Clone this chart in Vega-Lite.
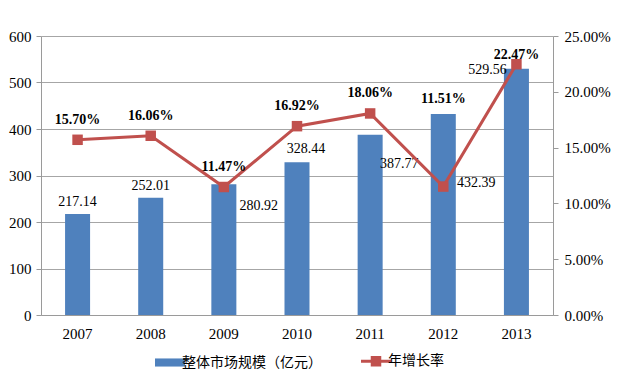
{
  "$schema": "https://vega.github.io/schema/vega-lite/v6.json",
  "width": 512,
  "height": 279,
  "autosize": "none",
  "padding": {"left": 41, "top": 36, "right": 66, "bottom": 55},
  "background": "#ffffff",
  "config": {"view": {"stroke": null}, "font": "Times New Roman, Liberation Serif, serif"},
  "data": {
    "values": [
      {"year": "2007", "size": 217.14, "growth": 0.1570},
      {"year": "2008", "size": 252.01, "growth": 0.1606},
      {"year": "2009", "size": 280.92, "growth": 0.1147},
      {"year": "2010", "size": 328.44, "growth": 0.1692},
      {"year": "2011", "size": 387.77, "growth": 0.1806},
      {"year": "2012", "size": 432.39, "growth": 0.1151},
      {"year": "2013", "size": 529.56, "growth": 0.2247}
    ]
  },
  "encoding": {
    "x": {
      "field": "year",
      "type": "ordinal",
      "scale": {"paddingInner": 0.658, "paddingOuter": 0.329},
      "axis": {
        "title": null,
        "labelAngle": 0,
        "labelFont": "Times New Roman, Liberation Serif, serif",
        "labelFontSize": 15,
        "labelColor": "#000000",
        "labelPadding": 11,
        "ticks": false,
        "domainColor": "#9a9a9a",
        "domainWidth": 1
      }
    }
  },
  "layer": [
    {
      "encoding": {
        "y": {
          "field": "size",
          "type": "quantitative",
          "scale": {"domain": [0, 600], "nice": false},
          "axis": {
            "title": null,
            "values": [0, 100, 200, 300, 400, 500, 600],
            "grid": true,
            "gridColor": "#a6a6a6",
            "domainColor": "#9a9a9a",
            "tickColor": "#9a9a9a",
            "tickSize": 5,
            "labelPadding": 5,
            "labelFont": "Times New Roman, Liberation Serif, serif",
            "labelFontSize": 15,
            "labelColor": "#000000"
          }
        }
      },
      "layer": [
        {
          "mark": {"type": "bar", "fill": "#4F81BD"},
          "encoding": {
            "color": {
              "datum": "整体市场规模（亿元）",
              "scale": {"domain": ["整体市场规模（亿元）", "年增长率"], "range": ["#4F81BD", "#C0504D"]},
              "legend": {
                "orient": "none",
                "legendX": 122,
                "legendY": 318,
                "direction": "horizontal",
                "title": null,
                "labelFont": "Noto Sans CJK SC",
                "labelFontSize": 14,
                "labelColor": "#000000",
                "symbolSize": 900,
                "columnPadding": 33,
                "labelOffset": 5,
                "encode": {
                  "symbols": {
                    "update": {
                      "shape": {"signal": "datum.value === '年增长率' ? 'M-1,0H1M-0.25,-0.25H0.25V0.25H-0.25Z' : 'M-1,-0.27H1V0.27H-1Z'"},
                      "fill": {"signal": "datum.value === '年增长率' ? '#C0504D' : '#4F81BD'"},
                      "stroke": {"signal": "datum.value === '年增长率' ? '#C0504D' : '#4F81BD'"},
                      "strokeWidth": {"signal": "datum.value === '年增长率' ? 3 : 0"},
                      "opacity": {"value": 1}
                    }
                  }
                }
              }
            }
          }
        },
        {
          "transform": [{"filter": "datum.year === '2007' || datum.year === '2008'"}],
          "mark": {"type": "text", "dy": -12, "fontSize": 14, "color": "#000000"},
          "encoding": {"text": {"field": "size", "type": "quantitative", "format": ".2f"}}
        },
        {
          "transform": [{"filter": "datum.year === '2009'"}],
          "mark": {"type": "text", "dx": 35, "dy": 22, "fontSize": 14, "color": "#000000"},
          "encoding": {"text": {"field": "size", "type": "quantitative", "format": ".2f"}}
        },
        {
          "transform": [{"filter": "datum.year === '2010'"}],
          "mark": {"type": "text", "dx": 9, "dy": -13, "fontSize": 14, "color": "#000000"},
          "encoding": {"text": {"field": "size", "type": "quantitative", "format": ".2f"}}
        },
        {
          "transform": [{"filter": "datum.year === '2011'"}],
          "mark": {"type": "text", "dx": 29, "dy": 29, "fontSize": 14, "color": "#000000"},
          "encoding": {"text": {"field": "size", "type": "quantitative", "format": ".2f"}}
        },
        {
          "transform": [{"filter": "datum.year === '2012'"}],
          "mark": {"type": "text", "dx": 33, "dy": 69, "fontSize": 14, "color": "#000000"},
          "encoding": {"text": {"field": "size", "type": "quantitative", "format": ".2f"}}
        },
        {
          "transform": [{"filter": "datum.year === '2013'"}],
          "mark": {"type": "text", "dx": -29, "dy": 1, "fontSize": 14, "color": "#000000"},
          "encoding": {"text": {"field": "size", "type": "quantitative", "format": ".2f"}}
        }
      ]
    },
    {
      "encoding": {
        "y": {
          "field": "growth",
          "type": "quantitative",
          "scale": {"domain": [0, 0.25], "nice": false},
          "axis": {
            "title": null,
            "orient": "right",
            "values": [0, 0.05, 0.1, 0.15, 0.2, 0.25],
            "format": ".2%",
            "grid": false,
            "domainColor": "#9a9a9a",
            "tickColor": "#9a9a9a",
            "tickSize": 5,
            "labelPadding": 6,
            "labelFont": "Times New Roman, Liberation Serif, serif",
            "labelFontSize": 15,
            "labelColor": "#000000"
          }
        }
      },
      "layer": [
        {
          "mark": {"type": "line", "strokeWidth": 3},
          "encoding": {"color": {"datum": "年增长率"}}
        },
        {
          "mark": {"type": "point", "shape": "square", "filled": true, "size": 110, "opacity": 1},
          "encoding": {"color": {"datum": "年增长率"}}
        },
        {
          "transform": [{"filter": "datum.year !== '2012' && datum.year !== '2013'"}],
          "mark": {"type": "text", "dy": -20, "fontSize": 14, "fontWeight": "bold", "color": "#000000"},
          "encoding": {"text": {"field": "growth", "type": "quantitative", "format": ".2%"}}
        },
        {
          "transform": [{"filter": "datum.year === '2012'"}],
          "mark": {"type": "text", "dy": -88, "fontSize": 14, "fontWeight": "bold", "color": "#000000"},
          "encoding": {"text": {"field": "growth", "type": "quantitative", "format": ".2%"}}
        },
        {
          "transform": [{"filter": "datum.year === '2013'"}],
          "mark": {"type": "text", "dy": -9, "fontSize": 14, "fontWeight": "bold", "color": "#000000"},
          "encoding": {"text": {"field": "growth", "type": "quantitative", "format": ".2%"}}
        }
      ]
    }
  ],
  "resolve": {"scale": {"y": "independent"}}
}
